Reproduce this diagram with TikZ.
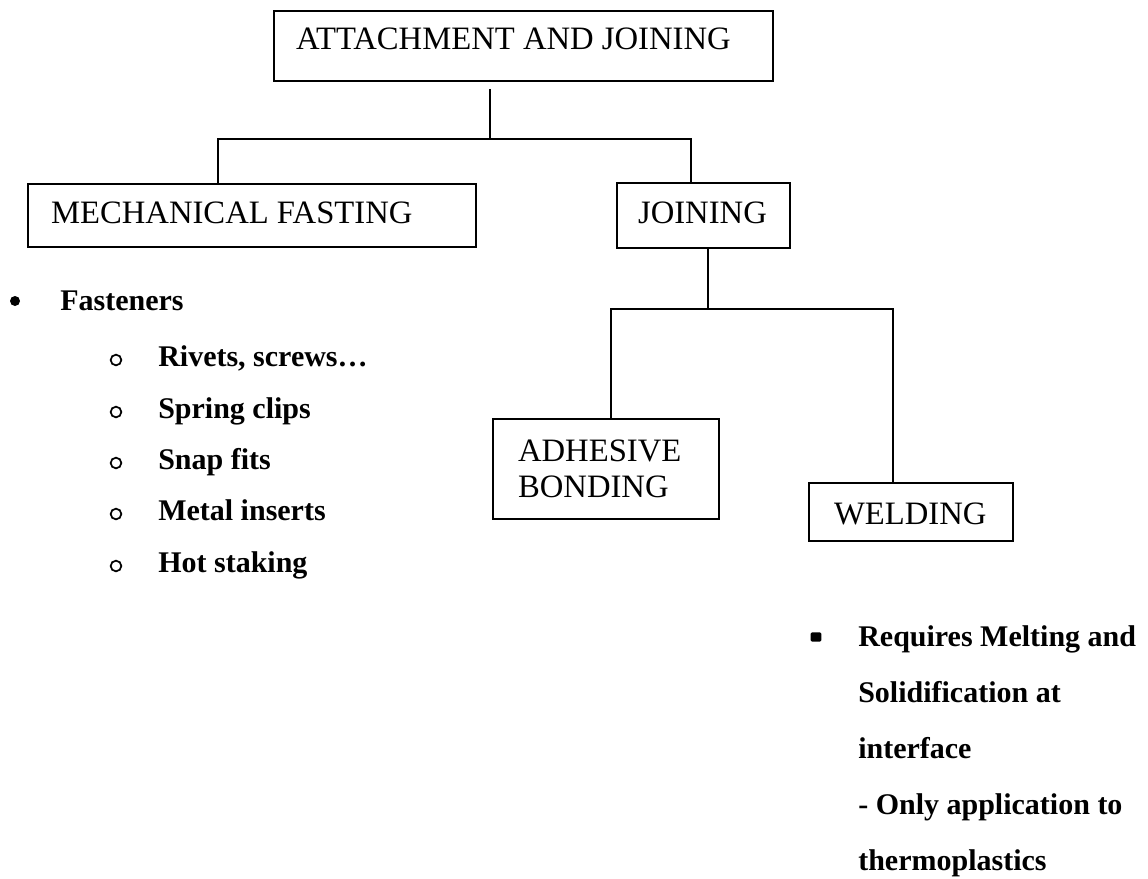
\documentclass[tikz,border=0pt]{standalone}
\usepackage{fontspec}
\setmainfont{Liberation Serif}
\usetikzlibrary{positioning}
\tikzset{
  box/.style={draw, line width=1.6pt, inner ysep=0pt, anchor=north west, align=flush left,
    font=\fontsize{24.5}{27}\selectfont},
  link/.style={line width=1.8pt},
  item/.style={anchor=base west, inner sep=0pt, font=\bfseries\fontsize{22.5}{27}\selectfont},
  dot/.style={circle, fill, inner sep=0pt, minimum size=7.5pt},
  ring/.style={circle, draw, line width=1.3pt, inner sep=0pt, minimum size=8pt},
  sqdot/.style={rectangle, fill, rounded corners=1pt, inner sep=0pt, minimum width=8pt, minimum height=7pt}
}
\begin{document}
\begin{tikzpicture}[x=0.75pt,y=-0.75pt]
  \useasboundingbox (0,0) rectangle (1148,878);
  % boxes
  \node[box, inner xsep=16.5pt, text width=341.25pt, text height=28.5pt, text depth=24pt] (attach) at (273,10) {ATTACHMENT AND JOINING};
  \node[box, inner xsep=17.25pt, text width=301.5pt, text height=29.25pt, text depth=18pt] (mech) at (27,183) {MECHANICAL FASTING};
  \node[box, inner xsep=15.75pt, text width=98.25pt, text height=30pt, text depth=18.75pt] (join) at (616,182) {JOINING};
  \node[box, inner xsep=18.75pt, text width=132pt, text height=31.5pt, text depth=43.5pt] (adh) at (492,418) {ADHESIVE\\BONDING};
  \node[box, inner xsep=18.75pt, text width=115.5pt, text height=30.75pt, text depth=12.75pt] (weld) at (808,482) {WELDING};
  % connectors
  \coordinate (j1) at (490,139);
  \draw[link, shorten <=5pt] (attach.south -| j1) -- (j1);
  \draw[link] ([xshift=-25.5pt]mech.north) |- (j1) -| ([xshift=-9.4pt]join.north);
  \coordinate (j2) at (708,309);
  \draw[link] (join.south -| j2) -- (j2);
  \draw[link] ([xshift=3.75pt]adh.north) |- (j2) -| ([xshift=-13.5pt]weld.north);
  % fasteners list
  \node[dot] (b0) at (15,301) {};
  \node[item] (fast) at (60,310) {Fasteners};
  \node[ring] (r1) at (116,360) {};
  \node[item] (rivets) at (158,366) {Rivets, screws…};
  \node[ring] (r2) at (116,412) {};
  \node[item] (clips) at (158,418) {Spring clips};
  \node[ring] (r3) at (116,463) {};
  \node[item] (snap) at (158,469) {Snap fits};
  \node[ring] (r4) at (116,514) {};
  \node[item] (inserts) at (158,520) {Metal inserts};
  \node[ring] (r5) at (116,566) {};
  \node[item] (staking) at (158,572) {Hot staking};
  % welding note
  \node[sqdot] (b6) at (816,637) {};
  \node[item, text width=225pt, align=flush left, font=\bfseries\fontsize{22.5}{42}\selectfont] (weldnote) at (858,646) {Requires Melting and\\Solidification at\\interface\\- Only application to\\thermoplastics};
\end{tikzpicture}
\end{document}
